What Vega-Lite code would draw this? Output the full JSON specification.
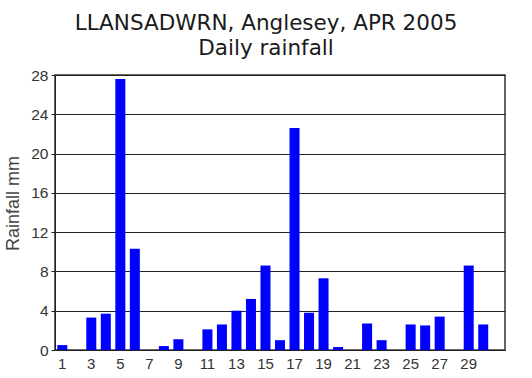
{
  "$schema": "https://vega.github.io/schema/vega-lite/v6.json",
  "autosize": "none",
  "width": 450,
  "height": 275,
  "padding": {"left": 55, "top": 75, "right": 27, "bottom": 28},
  "background": "white",
  "title": {
    "text": ["LLANSADWRN, Anglesey, APR 2005", "Daily rainfall"],
    "font": "DejaVu Sans",
    "fontSize": 21.5,
    "fontWeight": "normal",
    "color": "#1a1a1a",
    "lineHeight": 25,
    "anchor": "middle",
    "frame": "group",
    "dx": -14,
    "offset": 9
  },
  "data": {
    "values": [
      {"day": 1, "rain": 0.5}, {"day": 2, "rain": 0}, {"day": 3, "rain": 3.3},
      {"day": 4, "rain": 3.7}, {"day": 5, "rain": 27.6}, {"day": 6, "rain": 10.3},
      {"day": 7, "rain": 0}, {"day": 8, "rain": 0.4}, {"day": 9, "rain": 1.1},
      {"day": 10, "rain": 0}, {"day": 11, "rain": 2.1}, {"day": 12, "rain": 2.6},
      {"day": 13, "rain": 4.0}, {"day": 14, "rain": 5.2}, {"day": 15, "rain": 8.6},
      {"day": 16, "rain": 1.0}, {"day": 17, "rain": 22.6}, {"day": 18, "rain": 3.8},
      {"day": 19, "rain": 7.3}, {"day": 20, "rain": 0.3}, {"day": 21, "rain": 0},
      {"day": 22, "rain": 2.7}, {"day": 23, "rain": 1.0}, {"day": 24, "rain": 0},
      {"day": 25, "rain": 2.6}, {"day": 26, "rain": 2.5}, {"day": 27, "rain": 3.4},
      {"day": 28, "rain": 0}, {"day": 29, "rain": 8.6}, {"day": 30, "rain": 2.6}
    ]
  },
  "mark": {"type": "bar", "color": "#0000FF"},
  "encoding": {
    "x": {
      "field": "day",
      "type": "ordinal",
      "scale": {
        "domain": [1,2,3,4,5,6,7,8,9,10,11,12,13,14,15,16,17,18,19,20,21,22,23,24,25,26,27,28,29,30,31],
        "paddingInner": 0.31,
        "paddingOuter": 0.155
      },
      "axis": {
        "title": null,
        "labelAngle": 0,
        "ticks": false,
        "domain": false,
        "labelExpr": "datum.value % 2 == 1 && datum.value < 31 ? datum.value : ''",
        "labelFont": "Liberation Sans",
        "labelFontSize": 15,
        "labelColor": "#333333",
        "labelPadding": 6
      }
    },
    "y": {
      "field": "rain",
      "type": "quantitative",
      "scale": {"domain": [0, 28], "nice": false},
      "axis": {
        "values": [0, 4, 8, 12, 16, 20, 24, 28],
        "title": "Rainfall mm",
        "titleFont": "Liberation Sans",
        "titleFontSize": 18,
        "titleFontWeight": "normal",
        "titleColor": "#444444",
        "titlePadding": 8,
        "titleY": 128,
        "labelFont": "Liberation Sans",
        "labelFontSize": 15.5,
        "labelColor": "#333333",
        "labelPadding": 3,
        "ticks": true,
        "tickSize": 4,
        "tickColor": "#222222",
        "domainColor": "#222222",
        "grid": true,
        "gridColor": "#222222",
        "gridOpacity": 1
      }
    }
  },
  "config": {
    "view": {"stroke": "#333333", "strokeWidth": 1.5}
  }
}
